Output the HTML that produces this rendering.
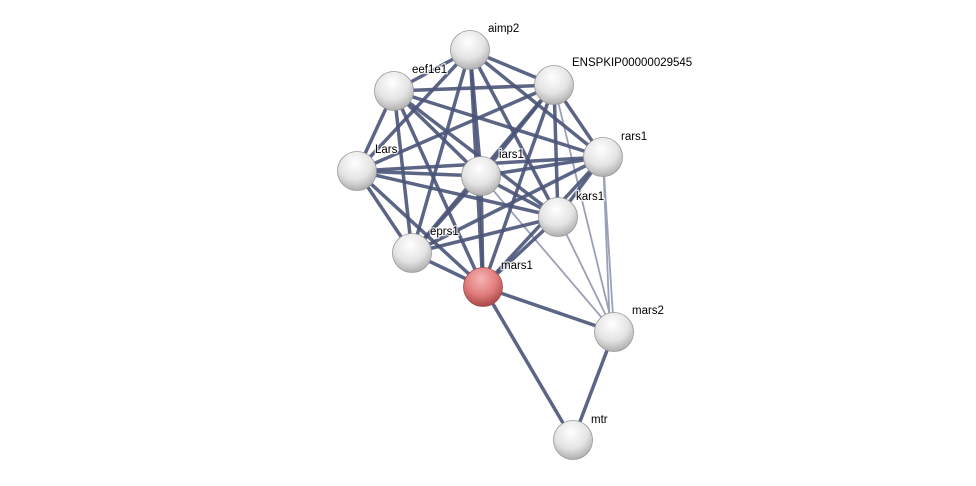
<!DOCTYPE html>
<html><head><style>body{margin:0;background:#fff}svg{display:block}text{font-family:"Liberation Sans",sans-serif;font-size:11.5px;fill:#000;stroke:#fff;stroke-width:2.5px;paint-order:stroke;stroke-opacity:0.8}</style></head><body>
<svg width="976" height="486" xmlns="http://www.w3.org/2000/svg">
<defs>
<radialGradient id="g" cx="0.45" cy="0.3" r="0.7"><stop offset="0" stop-color="#fff"/><stop offset="0.6" stop-color="#e4e4e4"/><stop offset="1" stop-color="#b0b0b0"/></radialGradient>
<radialGradient id="r" cx="0.45" cy="0.3" r="0.7"><stop offset="0" stop-color="#f6b4b4"/><stop offset="0.6" stop-color="#e07a7a"/><stop offset="1" stop-color="#a84848"/></radialGradient>
</defs>
<g stroke="#9aa0b8" stroke-width="1.8">
<line x1="554" y1="85" x2="614" y2="332"/>
<line x1="603" y1="157" x2="614" y2="332"/>
<line x1="603" y1="157" x2="610" y2="332"/>
<line x1="558" y1="217" x2="614" y2="332"/>
<line x1="481" y1="176" x2="614" y2="332"/>
</g>
<g stroke="#4a5478" stroke-width="3.5" stroke-opacity="0.9">
<line x1="470" y1="50" x2="394" y2="91"/><line x1="470" y1="50" x2="554" y2="85"/><line x1="470" y1="50" x2="603" y2="157"/><line x1="470" y1="50" x2="357" y2="171"/><line x1="470" y1="50" x2="481" y2="176"/><line x1="470" y1="50" x2="558" y2="217"/><line x1="470" y1="50" x2="412" y2="253"/><line x1="470" y1="50" x2="483" y2="287"/>
<line x1="394" y1="91" x2="554" y2="85"/><line x1="394" y1="91" x2="603" y2="157"/><line x1="394" y1="91" x2="357" y2="171"/><line x1="394" y1="91" x2="481" y2="176"/><line x1="394" y1="91" x2="558" y2="217"/><line x1="394" y1="91" x2="412" y2="253"/><line x1="394" y1="91" x2="483" y2="287"/>
<line x1="554" y1="85" x2="603" y2="157"/><line x1="554" y1="85" x2="357" y2="171"/><line x1="554" y1="85" x2="481" y2="176"/><line x1="554" y1="85" x2="558" y2="217"/><line x1="554" y1="85" x2="412" y2="253"/><line x1="554" y1="85" x2="483" y2="287"/>
<line x1="603" y1="157" x2="357" y2="171"/><line x1="603" y1="157" x2="481" y2="176"/><line x1="603" y1="157" x2="558" y2="217"/><line x1="603" y1="157" x2="412" y2="253"/><line x1="603" y1="157" x2="483" y2="287"/>
<line x1="357" y1="171" x2="481" y2="176"/><line x1="357" y1="171" x2="558" y2="217"/><line x1="357" y1="171" x2="412" y2="253"/><line x1="357" y1="171" x2="483" y2="287"/>
<line x1="481" y1="176" x2="558" y2="217"/><line x1="481" y1="176" x2="412" y2="253"/><line x1="481" y1="176" x2="483" y2="287"/>
<line x1="558" y1="217" x2="412" y2="253"/><line x1="558" y1="217" x2="483" y2="287"/>
<line x1="412" y1="253" x2="483" y2="287"/>
<line x1="483" y1="287" x2="614" y2="332"/><line x1="483" y1="287" x2="573" y2="440"/><line x1="614" y1="332" x2="573" y2="440"/>
</g>
<g stroke="#999" stroke-width="0.8">
<circle cx="470" cy="50" r="19.5" fill="url(#g)"/><circle cx="394" cy="91" r="19.5" fill="url(#g)"/><circle cx="554" cy="85" r="19.5" fill="url(#g)"/><circle cx="603" cy="157" r="19.5" fill="url(#g)"/><circle cx="357" cy="171" r="19.5" fill="url(#g)"/><circle cx="481" cy="176" r="19.5" fill="url(#g)"/><circle cx="558" cy="217" r="19.5" fill="url(#g)"/><circle cx="412" cy="253" r="19.5" fill="url(#g)"/><circle cx="483" cy="287" r="19.5" fill="url(#r)" stroke="#a05050"/><circle cx="614" cy="332" r="19.5" fill="url(#g)"/><circle cx="573" cy="440" r="19.5" fill="url(#g)"/>
</g>
<text x="488" y="32">aimp2</text><text x="412" y="73">eef1e1</text><text x="572" y="66">ENSPKIP00000029545</text><text x="621" y="140">rars1</text><text x="375" y="153">Lars</text><text x="499" y="158">iars1</text><text x="576" y="200">kars1</text><text x="430" y="235">eprs1</text><text x="501" y="269">mars1</text><text x="632" y="314">mars2</text><text x="591" y="423">mtr</text>
</svg>
</body></html>
